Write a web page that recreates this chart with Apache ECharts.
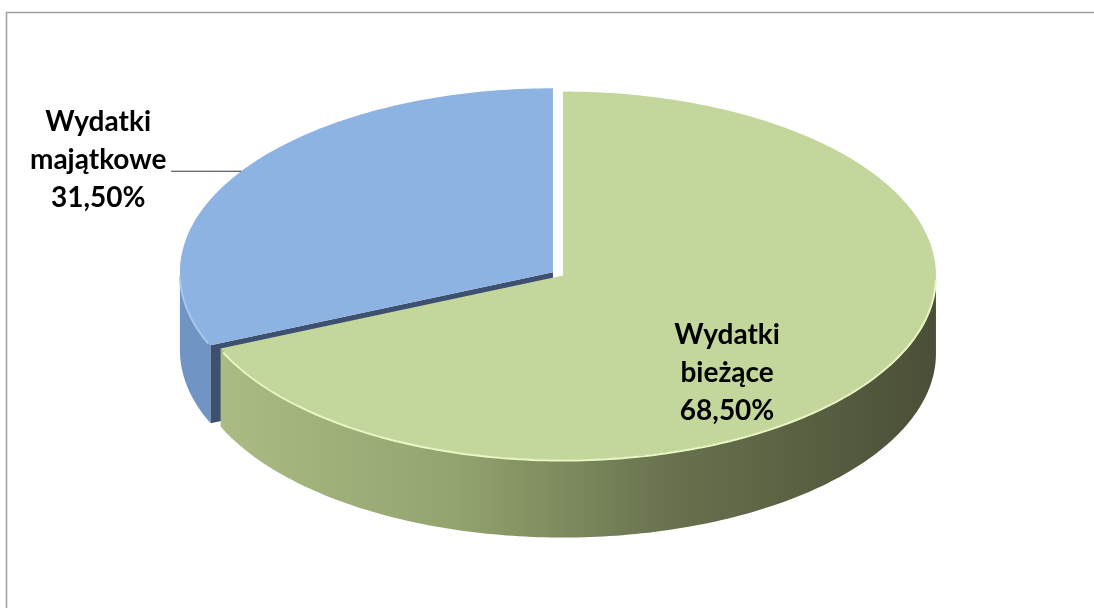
<!DOCTYPE html>
<html>
<head>
<meta charset="utf-8">
<script src="https://cdn.jsdelivr.net/npm/echarts@6/dist/echarts.min.js"></script>
<style>
  html, body { margin: 0; padding: 0; background: #fff; }
  #chart { width: 1094px; height: 608px; }
</style>
</head>
<body>
<div id="chart"></div>
<script>
const categories = ['Wydatki bieżące', 'Wydatki majątkowe']
const values = [68.5, 31.5]

// look of each slice: top face, side wall gradient, cut face, rim highlight
const topColors = ['#C3D69B', '#8DB3E2']
const sideStops = [
  [[0, '#AEBE86'], [0.35, '#94A46F'], [0.65, '#67714D'], [1, '#4A4F37']],
  [[0, '#7095C5'], [1, '#6A8CBB']],
]
const cutColors = ['#56603F', '#3E5070']
const rimColors = ['#E9F7C2', '#A9C6EA']

const total = values.reduce((a, b) => a + b, 0)
const RX = 373
const RY = 184
const DEPTH = 78
const EXPLODE = 6

const rad = (d) => (d * Math.PI) / 180
const fmtPct = (v) => ((v / total) * 100).toFixed(2).replace('.', ',') + '%'

function renderItem(params, api) {
  const i = params.dataIndex
  const W = api.getWidth()
  const H = api.getHeight()
  const before = values.slice(0, i).reduce((a, b) => a + b, 0)
  const a = (before / total) * 360
  const b = ((before + api.value(0)) / total) * 360
  const mid = (a + b) / 2

  const cx = W * 0.51 + EXPLODE * Math.sin(rad(mid))
  const cy = H * 0.4505 - EXPLODE * Math.cos(rad(mid)) * (RY / RX)
  const pt = (t, dz) => [cx + RX * Math.sin(rad(t)), cy - RY * Math.cos(rad(t)) + (dz || 0)]
  const arc = (from, to, dz) => {
    const pts = []
    const n = Math.max(2, Math.ceil(Math.abs(to - from)))
    for (let k = 0; k <= n; k++) pts.push(pt(from + ((to - from) * k) / n, dz))
    return pts
  }

  // slices nearer the viewer are drawn on top
  const front = Math.cos(rad(mid)) < 0 ? 10 : 0
  const children = []

  // side wall (only the part facing the viewer)
  const s0 = Math.max(a, 90)
  const s1 = Math.min(b, 270)
  if (s1 > s0) {
    children.push({
      type: 'polygon',
      z2: front + 1,
      shape: { points: arc(s0, s1, 0).concat(arc(s1, s0, DEPTH)) },
      style: {
        fill: new echarts.graphic.LinearGradient(cx - RX, 0, cx + RX, 0,
          sideStops[i].map(([offset, color]) => ({ offset, color })), true),
      },
    })
  }

  // cut faces
  const cuts = []
  if (Math.sin(rad(a)) < -0.01) cuts.push(a)
  if (Math.sin(rad(b)) > 0.01) cuts.push(b)
  cuts.forEach((t) => {
    const r = pt(t)
    children.push({
      type: 'polygon',
      z2: front + 2,
      shape: { points: [[cx, cy], r, [r[0], r[1] + DEPTH], [cx, cy + DEPTH]] },
      style: { fill: cutColors[i] },
    })
  })

  // top face
  children.push({
    type: 'polygon',
    z2: front + 3,
    shape: { points: [[cx, cy]].concat(arc(a, b, 0)) },
    style: { fill: topColors[i] },
  })

  // light rim on the front edge
  if (s1 > s0) {
    children.push({
      type: 'polyline',
      z2: front + 4,
      shape: { points: arc(s0 + 1, s1 - 1, 1) },
      style: { stroke: rimColors[i], lineWidth: 2, fill: null },
    })
  }

  // label
  const text = categories[i].replace(' ', '\n') + '\n' + fmtPct(api.value(0))
  const font = { fontFamily: 'Lato', fontWeight: 'bold', fontSize: 28, lineHeight: 38, fill: '#000' }
  if (api.value(0) / total >= 0.5) {
    children.push({
      type: 'text',
      z2: front + 5,
      style: Object.assign({ text, x: cx + RX * 0.44, y: cy + RY * 0.53, align: 'center', verticalAlign: 'middle' }, font),
    })
  } else {
    const r = pt(mid)
    const endX = r[0] - 70
    children.push({
      type: 'line',
      z2: front + 5,
      shape: { x1: r[0], y1: r[1], x2: endX, y2: r[1] },
      style: { stroke: '#333', lineWidth: 1.2 },
    })
    children.push({
      type: 'text',
      z2: front + 5,
      style: Object.assign({ text, x: endX - 73, y: r[1] - 11, align: 'center', verticalAlign: 'middle' }, font),
    })
  }

  return { type: 'group', children }
}

const chart = echarts.init(document.getElementById('chart'))
chart.setOption({
  animation: false,
  backgroundColor: '#fff',
  graphic: [
    {
      type: 'rect',
      left: 4,
      top: 10,
      shape: { width: 1200, height: 700 },
      style: { fill: null, stroke: '#9E9E9E', lineWidth: 1.5 },
      silent: true,
    },
  ],
  series: [
    {
      type: 'custom',
      coordinateSystem: 'none',
      renderItem,
      data: values.map((v, i) => ({ name: categories[i], value: [v] })),
    },
  ],
})
window.addEventListener('resize', () => chart.resize())
</script>
</body>
</html>
